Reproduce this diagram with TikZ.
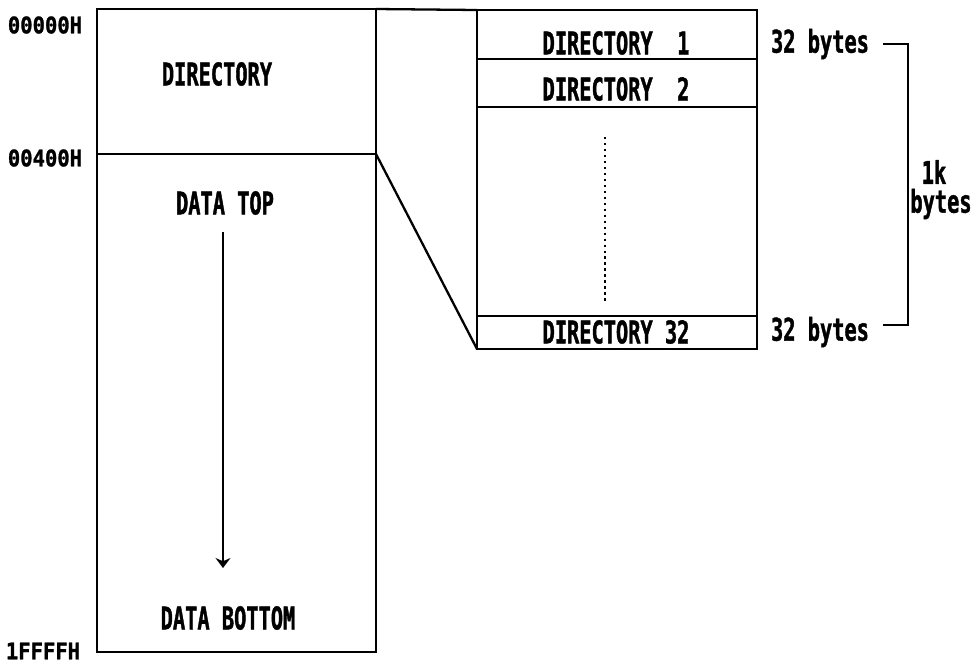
\documentclass[tikz,border=0pt]{standalone}
\usepackage{fontspec}
\newfontfamily\condmono[FakeStretch=0.65, FakeBold=1.2]{DejaVu Sans Mono}
\newfontfamily\addrmono[FakeStretch=0.9, FakeBold=1.2]{DejaVu Sans Mono}
\usetikzlibrary{arrows.meta, positioning}

\begin{document}
\begin{tikzpicture}[
  x=0.02cm, y=-0.02cm,
  frame/.style={draw, line width=1.3pt},
  lbl/.style={font=\condmono\bfseries\fontsize{17.8}{16}\selectfont, inner sep=1pt},
  addr/.style={font=\addrmono\bfseries\fontsize{13}{13}\selectfont, inner sep=1pt},
  arr/.style={-{Stealth[length=2mm, width=3mm]}, line width=1.3pt}
]
  \useasboundingbox (0,0) rectangle (977,664);

  % memory map
  \coordinate (mapTL) at (97,9);
  \coordinate (mapBR) at (376,652);
  \coordinate (splitL) at (97,154);
  \coordinate (splitR) at (376,154);
  \coordinate (mapTR) at (376,9);
  \draw[frame] (mapTL) rectangle (mapBR);
  \draw[frame] (splitL) -- (splitR);

  % directory area, enlarged
  \coordinate (dirTL) at (477,10);
  \coordinate (dirBR) at (757,349);
  \coordinate (dirBL) at (477,349);
  \draw[frame] (dirTL) rectangle (dirBR);
  \foreach \y in {59,107,316}
    \draw[line width=1.1pt] (477,\y) -- (757,\y);
  \draw[frame] (mapTR) -- (dirTL);
  \draw[frame] (splitR) -- (dirBL);

  % addresses
  \node[addr] (a0) at (45,25) {00000H};
  \node[addr] (a1) at (45,158) {00400H};
  \node[addr] (a2) at (43,651) {1FFFFH};

  % contents
  \node[lbl] (dir)  at (217,74)  {DIRECTORY};
  \node[lbl] (dtop) at (225,203) {DATA TOP};
  \node[lbl] (dbot) at (228,618) {DATA BOTTOM};
  \coordinate (flowTop) at (223,232);
  \coordinate (flowEnd) at (223,568);
  \draw[arr] (flowTop) -- (flowEnd);

  \node[lbl] (d1)  at (616,43)  {DIRECTORY \phantom{3}1};
  \node[lbl] (d2)  at (616,89)  {DIRECTORY \phantom{3}2};
  \node[lbl] (d32) at (616,332) {DIRECTORY 32};
  \coordinate (dotsTop) at (605,137);
  \coordinate (dotsEnd) at (605,302);
  \draw[line width=1.4pt, dotted] (dotsTop) -- (dotsEnd);

  % sizes
  \node[lbl] (s1) at (820,44)  {32 bytes};
  \node[lbl] (s2) at (820,332) {32 bytes};
  \node[lbl] (kb)  at (934,172) {1k};
  \node[lbl] (kbu) at (941,204) {bytes};
  \draw[line width=1.3pt] (s1.east) ++(12,0) coordinate (b1)
    -- (908,44) coordinate (b2)
    -- (908,325) coordinate (b3)
    -- (883,325);
\end{tikzpicture}
\end{document}
